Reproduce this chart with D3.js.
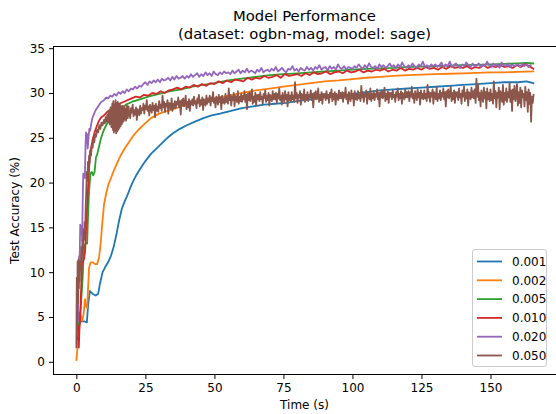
<!DOCTYPE html>
<html>
<head>
<meta charset="utf-8">
<title>Model Performance</title>
<style>
body { margin: 0; background: #fff; }
text { font-family: "DejaVu Sans", sans-serif; fill: #000; }
</style>
</head>
<body>
<script src="https://cdn.jsdelivr.net/npm/d3@7"></script>
<script>
// learning rates (legend) and their colours
var rates = ["0.001", "0.002", "0.005", "0.010", "0.020", "0.050"];
var colors = ["#1f77b4", "#ff7f0e", "#2ca02c", "#d62728", "#9467bd", "#8c564b"];
var xTicks = [0, 25, 50, 75, 100, 125, 150];
var yTicks = [0, 5, 10, 15, 20, 25, 30, 35];

// [time (s), test accuracy (%)]
var lr001 = [[0.8,3.5],[1.3,4.6],[2,4.5],[3,4.5],[3.8,4.4],[4.3,6.5],[4.9,7.9],[5.8,7.6],[7,7.4],[7.9,7.6],
  [8.6,8.8],[9.5,10],[10.5,10.6],[11.5,11.1],[12.5,11.8],[13.5,12.8],[14.5,14.2],[15.5,15.8],[16.5,17.1],[17.5,17.9],
  [18.5,18.6],[19.5,19.4],[20.5,20.1],[22,21],[23.5,21.7],[25,22.4],[27,23.2],[29,23.8],[31,24.4],[33,25],
  [35,25.5],[37.5,26],[40,26.4],[43,26.8],[46,27.2],[49,27.5],[52,27.7],[56,28],[60,28.3],[64,28.5],
  [68,28.7],[72,28.8],[76,28.9],[80,29.1],[85,29.3],[90,29.5],[95,29.7],[100,29.9],[105,30.1],[110,30.3],
  [115,30.4],[120,30.5],[125,30.6],[130,30.7],[135,30.8],[140,30.9],[145,31],[150,31.1],[155,31.2],[160,31.2],
  [163,31.3],[165.5,31.1]];

var lr002 = [[0,0.2],[0.4,1.5],[0.8,3.2],[1.2,4.5],[1.6,5.2],[2.2,4.6],[2.7,5.5],[3.1,7],[3.4,6.2],[3.9,6],
  [4.2,8],[4.6,10.5],[5.2,11.1],[6,11.1],[6.8,10.9],[7.5,10.9],[8.2,11.6],[8.8,13.2],[9.4,15.5],[10,17.5],
  [10.8,18.8],[11.6,19.8],[12.4,20.4],[13.5,21.3],[14.8,22.2],[16,23],[17.5,23.8],[19,24.5],[20.8,25.3],[22.5,25.9],
  [24.5,26.5],[27,27.2],[30,27.7],[33,28],[37,28.4],[41,28.8],[45,29.1],[50,29.4],[55,29.7],[60,30],
  [65,30.3],[70,30.5],[75,30.7],[80,30.9],[85,31.1],[90,31.3],[95,31.4],[100,31.55],[105,31.7],[110,31.8],
  [115,31.9],[120,32],[125,32.05],[130,32.1],[135,32.15],[140,32.2],[145,32.25],[150,32.3],[155,32.3],[160,32.35],
  [165.5,32.4]];

var lr005 = [[0.5,3],[0.9,5.5],[1.3,4.8],[1.8,7],[2.3,9.5],[2.7,12.5],[3.1,13],[3.5,13.3],[3.9,13.2],[4.2,16],
  [4.6,19],[5.1,21],[5.6,21.2],[6.1,20.8],[6.6,21.2],[7.1,22.8],[7.6,23.2],[8.2,24],[8.8,24.8],[9.4,25.4],
  [10,25.9],[10.8,26.4],[11.6,26.9],[12.5,27.3],[14,27.8],[16,28.3],[18,28.7],[20,29],[23,29.3],[26,29.6],
  [30,29.9],[34,30.2],[38,30.4],[42,30.7],[46,30.9],[50,31.1],[55,31.4],[60,31.6],[65,31.8],[70,32],
  [75,32.1],[80,32.2],[85,32.3],[90,32.4],[95,32.5],[100,32.6],[105,32.7],[110,32.75],[115,32.8],[120,32.9],
  [125,32.95],[130,33],[135,33.05],[140,33.1],[145,33.15],[150,33.2],[155,33.25],[160,33.3],[163,33.35],[165.5,33.3]];

var lr010Head = [[0.3,2.5],[0.6,4],[0.9,1.6],[1.1,3.5],[1.4,5],[1.7,8],[2,11],[2.4,11.2],[2.8,11.5],[3.2,12.5],
  [3.6,15.5],[4,18],[4.4,20.5],[4.8,22.5],[5.3,23.8],[5.9,24.8],[6.6,25.6],[7.4,26.3],[8.2,26.9],[9,27.3],
  [10,27.5],[11.2,27.9],[13,28.3],[14.8,28.7],[17,29]];
// evaluated every 1.5 s from 20 s on
var lr010TailStart = 20, lr010TailStep = 1.5;
var lr010Tail = [29.4,29.6,29.5,29.8,29.7,30.0,29.9,30.2,30.0,30.3,
  30.4,30.6,30.4,30.7,30.6,30.9,30.7,31.0,30.8,31.1,
  31.0,31.3,31.1,31.4,31.2,31.5,31.4,31.3,31.7,31.5,
  31.7,31.6,31.9,31.7,31.8,32.0,31.7,32.1,31.9,32.0,
  32.1,31.9,32.2,32.0,32.3,32.1,32.2,32.4,32.1,32.3,
  32.4,32.2,32.5,32.3,32.4,32.6,32.3,32.5,32.4,32.6,
  32.5,32.7,32.4,32.6,32.5,32.8,32.5,32.7,32.6,32.8,
  32.6,32.9,32.7,32.8,32.6,32.9,32.7,33.0,32.8,32.9,
  32.8,33.0,32.7,32.9,32.8,33.1,32.8,33.0,32.9,33.1,
  32.9,33.0,32.8,33.1,32.9,33.2,33.0,32.7];

var lr020Head = [[0.2,3],[0.4,5.5],[0.6,4.5],[0.8,11],[1,11.8],[1.2,11.5],[1.4,15.3],[1.6,14.8],[1.9,15.2],[2.1,13.5],
  [2.3,18],[2.5,21],[2.7,20.8],[2.9,21],[3.1,20.5],[3.3,24],[3.5,25.6],[3.7,24.5],[3.9,25.4],[4.1,23.8],
  [4.4,25],[4.7,26],[5,25.8],[5.4,26.6],[5.8,27.2],[6.2,27.5],[6.7,27.9],[7.2,28.2],[7.7,28.4],[8.3,28.7],
  [9,29],[9.6,29.1]];
// evaluated every 0.75 s from 10 s on
var lr020TailStart = 10, lr020TailStep = 0.75;
var lr020Tail = [29.2,29.5,29.4,29.7,29.6,29.9,29.7,30.1,29.9,30.2,30.0,30.4,30.2,30.5,30.4,30.7,30.5,30.8,30.7,31.0,
  31.2,30.9,31.3,31.1,31.4,31.2,31.5,31.2,31.6,31.4,31.5,31.7,31.4,31.8,31.5,31.9,31.6,31.7,31.9,31.6,
  31.9,31.7,32.1,31.8,32.0,32.2,31.8,32.1,31.9,32.3,32.0,32.2,31.9,32.4,32.1,32.0,32.3,32.1,32.4,32.2,
  32.3,32.1,32.5,32.2,32.4,32.6,32.2,32.5,32.3,32.7,32.3,32.5,32.4,32.2,32.6,32.4,32.8,32.3,32.5,32.6,
  32.4,32.7,32.5,32.9,32.4,32.6,32.8,32.5,32.3,32.7,32.6,33.0,32.5,32.7,32.4,32.8,32.6,32.5,32.9,32.6,
  32.8,32.5,32.9,32.7,33.1,32.6,32.8,32.9,32.5,33.0,32.7,32.9,32.6,33.2,32.8,32.7,33.0,32.6,32.9,32.8,
  32.7,33.0,32.8,33.2,32.9,32.7,33.1,32.8,33.3,32.9,32.8,33.0,32.7,33.2,32.9,33.1,32.8,33.0,33.3,32.9,
  33.1,32.8,33.2,32.9,33.4,33.0,32.8,33.1,32.9,33.3,33.0,32.8,33.2,33.0,33.5,32.9,33.1,32.8,33.2,33.0,
  33.2,32.9,33.1,33.4,32.9,33.2,33.0,33.5,32.9,33.1,33.3,33.0,32.8,33.2,33.0,33.4,33.1,32.9,33.3,33.0,
  33.1,33.3,32.9,33.2,33.0,33.5,33.1,32.9,33.3,33.0,33.2,32.8,33.4,33.1,33.0,33.3,32.9,33.2,33.0,33.1,
  33.2,32.9,33.3,33.0,33.2,32.9,33.1];

var lr050Head = [[0,1.6],[0.15,9.4],[0.3,3.5],[0.45,11.2],[0.6,6.5],[0.75,11.4],[0.9,8.2],[1.05,10.6],[1.2,9],[1.4,11.3],
  [1.6,10.2],[1.8,12.8],[2,11.2],[2.2,13.6],[2.4,12.4],[2.6,14.8],[2.8,13.6],[3,15.6],[3.2,14.8],[3.4,17.4],
  [3.6,19.2],[3.8,21.2],[4,20.2],[4.2,22.3],[4.4,21.1],[4.6,23],[4.8,22.2],[5,23.6],[5.3,23],[5.6,24.2],
  [5.9,23.9],[6.2,24.9],[6.5,24.5],[6.8,25.4],[7.1,25.1],[7.5,25.9],[7.9,25.6],[8.3,26.4],[8.7,26],[9.1,26.7],
  [9.5,26.4],[10,27],[10.3,26.6],[10.6,27.3],[10.9,26.8],[11.2,27.6],[11.5,26.7],[11.8,28],[12.1,26.5],[12.4,28.4],
  [12.7,26.2],[13,28.8],[13.2,25.9],[13.4,29.1],[13.6,25.6],[13.8,28.7],[14,25.8],[14.2,29.2],[14.4,25.5],[14.6,28.9],
  [14.8,25.7],[15,29],[15.2,25.9],[15.4,28.6],[15.6,26.1],[15.8,28.8],[16,26.3],[16.2,28.4],[16.4,26.5],[16.6,28.6],
  [16.8,26.7],[17,28.3],[17.2,26.9],[17.4,28.5],[17.6,27.1],[17.8,28.2]];
// evaluated every 0.3 s from 18 s on
var lr050TailStart = 18, lr050TailStep = 0.3;
var lr050Tail = [26.9,28.6,27.2,28.5,27.6,27.2,28.3,27.8,28.7,27.4,28.1,27.6,28.4,27.0,28.2,27.9,27.5,28.6,27.7,28.3,
  28.1,28.8,27.7,28.6,28.2,29.2,28.0,28.5,27.5,28.7,28.3,27.8,28.9,28.1,28.6,27.3,28.8,28.0,28.5,27.9,
  29.1,28.3,28.7,28.0,29.7,28.4,29.0,27.9,28.8,28.5,29.2,27.7,28.9,28.7,28.2,29.4,28.0,28.8,28.3,29.1,
  28.3,29.0,28.7,29.5,28.4,29.1,27.6,29.2,28.6,29.4,28.5,28.9,29.7,28.2,29.0,28.4,29.3,28.0,29.1,28.7,
  29.3,28.6,29.6,28.8,29.1,28.3,29.4,28.9,29.8,28.5,29.2,28.7,29.5,28.1,29.3,29.0,28.6,29.7,28.8,29.4,
  29.0,29.7,28.6,29.5,29.1,30.1,28.9,29.4,28.4,29.6,29.2,28.7,29.8,29.0,29.5,28.2,29.7,28.9,29.4,28.8,
  29.9,29.0,29.5,28.8,30.5,29.2,29.8,28.6,29.6,29.2,30.0,28.5,29.7,29.4,29.0,30.2,28.8,29.6,29.1,29.9,
  29.0,29.7,29.3,30.2,29.0,29.8,28.2,29.9,29.2,30.1,29.1,29.6,30.4,28.8,29.6,29.0,30.0,28.6,29.8,29.3,
  29.8,29.1,30.1,29.3,29.6,28.8,29.9,29.4,30.3,29.0,29.7,29.2,30.0,28.6,29.8,29.5,29.1,30.2,29.3,29.9,
  29.3,30.0,28.9,29.9,29.4,30.5,29.2,29.7,28.7,30.0,29.5,29.0,30.2,29.3,29.8,28.5,30.1,29.2,29.7,29.1,
  30.1,29.3,29.7,29.0,31.2,29.4,30.0,28.9,29.8,29.5,30.2,28.7,29.9,29.7,29.2,30.4,29.0,29.8,29.3,30.1,
  29.1,29.8,29.5,30.3,29.2,29.9,28.4,30.0,29.4,30.2,29.3,29.7,30.5,29.0,29.8,29.2,30.1,28.8,29.9,29.5,
  29.9,29.2,30.2,29.4,29.8,28.9,30.0,29.5,30.4,29.1,29.9,29.3,30.1,28.7,29.9,29.6,29.2,30.3,29.4,30.0,
  29.4,30.1,29.0,30.0,29.5,30.6,29.3,29.8,28.8,30.1,29.6,29.1,30.3,29.4,29.9,28.6,30.2,29.3,29.8,29.2,
  30.2,29.4,29.8,29.1,30.8,29.5,30.1,29.0,29.9,29.6,30.3,28.8,30.0,29.8,29.3,30.5,29.1,29.9,29.4,30.2,
  29.2,29.9,29.6,30.4,29.3,30.0,28.5,30.1,29.5,30.3,29.4,29.8,30.6,29.1,29.9,29.3,30.2,28.9,30.0,29.6,
  30.0,29.3,30.3,29.5,29.8,29.0,30.1,29.6,30.5,29.2,29.9,29.4,30.2,28.8,30.0,29.7,29.3,30.4,29.5,30.1,
  29.5,30.2,29.1,30.1,29.6,30.7,29.4,29.9,28.9,30.2,29.7,29.2,30.4,29.5,30.0,28.7,30.3,29.4,29.9,29.3,
  30.3,29.4,29.9,29.1,30.9,29.5,30.1,29.0,30.0,29.6,30.4,28.8,30.1,29.8,29.3,30.6,29.1,29.9,29.4,30.3,
  29.2,30.0,29.6,30.5,29.3,30.1,28.5,30.2,29.5,30.4,29.4,29.8,30.7,29.1,30.0,29.3,30.3,28.9,30.1,29.6,
  30.1,29.2,30.5,29.5,29.9,28.8,30.3,29.6,30.7,29.1,30.0,29.4,30.4,28.6,30.1,29.8,29.3,30.6,29.5,30.2,
  29.4,30.4,28.9,31.6,29.6,30.9,29.2,30.0,28.5,30.3,29.8,29.0,30.6,29.4,30.1,28.3,30.5,29.3,30.0,29.1,
  30.4,29.2,29.9,28.8,31.3,29.4,30.2,28.4,30.0,29.5,30.6,28.2,30.2,29.8,29.0,30.9,28.7,30.0,29.2,30.5,
  29.0,30.1,29.5,31.1,29.0,30.3,28.0,30.4,29.3,30.8,29.1,29.8,31.0,28.6,30.1,28.9,30.6,28.4,30.3,29.5,
  29.9,28.5,30.7,29.2,30.1,27.9,30.4,28.8,30.0,26.8,29.6,28.9,29.8];

function withTail(head, start, step, vals) {
  return head.concat(vals.map(function(v, i) { return [start + i * step, v]; }));
}
var series = [lr001, lr002, lr005,
  withTail(lr010Head, lr010TailStart, lr010TailStep, lr010Tail),
  withTail(lr020Head, lr020TailStart, lr020TailStep, lr020Tail),
  withTail(lr050Head, lr050TailStart, lr050TailStep, lr050Tail)];

var width = 556, height = 414;
var plotLeft = 53.5, plotRight = 557, plotTop = 46.5, plotBottom = 374.5;

var svg = d3.select('body').append('svg')
  .attr('width', width)
  .attr('height', height);

var x = d3.scaleLinear().domain([-8.28, 173.9]).range([plotLeft, 556.5]);
var y = d3.scaleLinear().domain([-1.42, 35.19]).range([plotBottom, plotTop]);

svg.append('clipPath').attr('id', 'plot')
  .append('rect')
  .attr('x', plotLeft).attr('y', plotTop)
  .attr('width', plotRight - plotLeft).attr('height', plotBottom - plotTop);

var line = d3.line()
  .x(function(d) { return x(d[0]); })
  .y(function(d) { return y(d[1]); });

svg.append('g').attr('clip-path', 'url(#plot)')
  .selectAll('path')
  .data(series)
  .enter()
  .append('path')
  .attr('d', line)
  .attr('fill', 'none')
  .attr('stroke', function(d, i) { return colors[i]; })
  .attr('stroke-width', 1.8)
  .attr('stroke-linejoin', 'round')
  .attr('stroke-linecap', 'square');

// axes
var xAxis = svg.append('g')
  .attr('transform', 'translate(0,' + plotBottom + ')')
  .call(d3.axisBottom(x).tickValues(xTicks).tickSize(4.5).tickPadding(4).tickFormat(d3.format('d')));
var yAxis = svg.append('g')
  .attr('transform', 'translate(' + plotLeft + ',0)')
  .call(d3.axisLeft(y).tickValues(yTicks).tickSize(4.5).tickPadding(4).tickFormat(d3.format('d')));
[xAxis, yAxis].forEach(function(g) {
  g.select('.domain').remove();
  g.selectAll('line').attr('stroke', '#000').attr('stroke-width', 1);
  g.selectAll('text').style('font-family', '"DejaVu Sans", sans-serif').style('font-size', '12px').attr('fill', '#000');
});

svg.append('rect')
  .attr('x', plotLeft).attr('y', plotTop)
  .attr('width', plotRight - plotLeft).attr('height', plotBottom - plotTop)
  .attr('fill', 'none')
  .attr('stroke', '#000')
  .attr('stroke-width', 1);

// titles
svg.append('text')
  .attr('x', 304.5).attr('y', 20.5)
  .attr('text-anchor', 'middle')
  .style('font-size', '14.8px')
  .text('Model Performance');
svg.append('text')
  .attr('x', 304.5).attr('y', 38.5)
  .attr('text-anchor', 'middle')
  .style('font-size', '14.8px')
  .text('(dataset: ogbn-mag, model: sage)');

svg.append('text')
  .attr('x', 304.5).attr('y', 409)
  .attr('text-anchor', 'middle')
  .style('font-size', '12px')
  .text('Time (s)');
svg.append('text')
  .attr('transform', 'translate(18.5,210.5) rotate(-90)')
  .attr('text-anchor', 'middle')
  .style('font-size', '12px')
  .text('Test Accuracy (%)');

// legend
var legend = svg.append('g');
legend.append('rect')
  .attr('x', 472.5).attr('y', 249.5)
  .attr('width', 74).attr('height', 117)
  .attr('rx', 2.5)
  .attr('fill', '#fff').attr('fill-opacity', 0.8)
  .attr('stroke', '#cccccc').attr('stroke-width', 1);
var items = legend.selectAll('g.item')
  .data(rates)
  .enter()
  .append('g')
  .attr('class', 'item')
  .attr('transform', function(d, i) { return 'translate(0,' + (261.5 + i * 18.8) + ')'; });
items.append('line')
  .attr('x1', 477).attr('x2', 502)
  .attr('stroke', function(d, i) { return colors[i]; })
  .attr('stroke-width', 1.8);
items.append('text')
  .attr('x', 512).attr('dy', '0.35em')
  .style('font-size', '12px')
  .text(function(d) { return d; });
</script>
</body>
</html>
